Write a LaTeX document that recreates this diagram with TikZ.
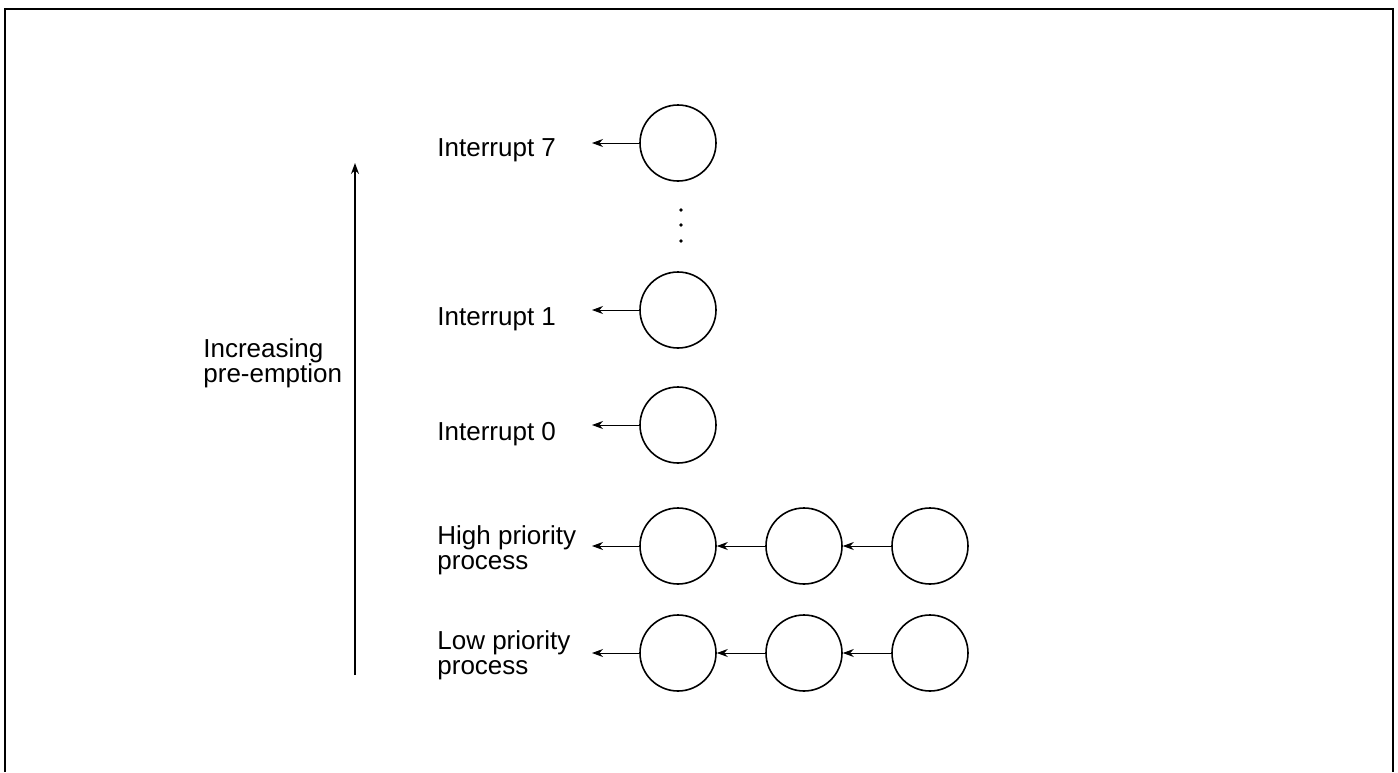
\documentclass[tikz,border=0pt]{standalone}
\usepackage{fontspec}
\setmainfont{Liberation Sans}
\usetikzlibrary{positioning,arrows.meta}

\tikzset{
  task/.style={circle,draw,line width=0.8pt,minimum size=38pt,inner sep=0pt},
  lbl/.style={anchor=west,align=left,inner sep=0pt,font=\fontsize{13pt}{12.5pt}\selectfont},
  link/.style={-{Stealth[length=5.5pt,width=4pt]},line width=0.45pt},
}

\begin{document}
\begin{tikzpicture}[x=0.5pt,y=-0.5pt,node distance=63pt,on grid]
   \useasboundingbox (0,0) rectangle (1398,772);
   % frame, open at the bottom
   \draw[line width=1pt] (5,772) -- (5,9) -- (1393,9) -- (1393,772);

   % pre-emption axis
   \coordinate (axlo) at (355,675);
   \coordinate (axhi) at (355,163);
   \draw[link,line width=0.7pt] (axlo) -- (axhi);
   \node[lbl] (incr) at (203,363) {Increasing\\pre-emption};

   % interrupts
   \node[task] (int7) at (678,143) {};
   \node[task] (int1) at (678,310) {};
   \node[task] (int0) at (678,425) {};
   \foreach \y in {210,225,241}
      \fill (681,\y) circle (0.9pt);

   % process queues
   \node[task] (hi1) at (678,546) {};
   \node[task] (hi2) [right=of hi1] {};
   \node[task] (hi3) [right=of hi2] {};
   \node[task] (lo1) at (678,653) {};
   \node[task] (lo2) [right=of lo1] {};
   \node[task] (lo3) [right=of lo2] {};

   % labels
   \node[lbl] (l7) at (437,150) {Interrupt 7};
   \node[lbl] (l1) at (437,319) {Interrupt 1};
   \node[lbl] (l0) at (437,434) {Interrupt 0};
   \node[lbl] (lhi) at (437,550) {High priority\\process};
   \node[lbl] (llo) at (437,655) {Low priority\\process};

   \coordinate (e7) at (592,143);
   \coordinate (e1) at (592,310);
   \coordinate (e0) at (592,425);
   \coordinate (ehi) at (592,546);
   \coordinate (elo) at (592,653);

   \path[link]
   (int7) edge (e7)
   (int1) edge (e1)
   (int0) edge (e0)
   (hi1) edge (ehi)
   (hi2) edge (hi1)
   (hi3) edge (hi2)
   (lo1) edge (elo)
   (lo2) edge (lo1)
   (lo3) edge (lo2);
\end{tikzpicture}
\end{document}
